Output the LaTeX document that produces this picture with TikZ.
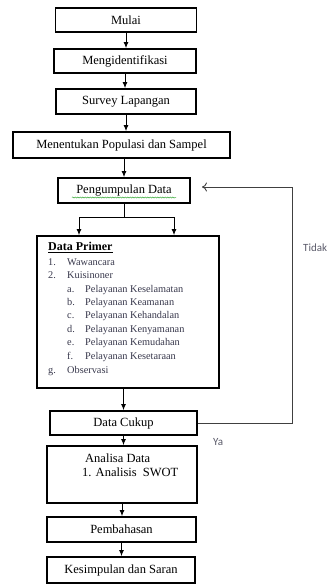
\documentclass[tikz,border=0pt]{standalone}
\usepackage{fontspec}
\setmainfont{Liberation Serif}
\newfontfamily\labelfont{Carlito}
\usepackage{tikz}
\usetikzlibrary{arrows.meta}
\usetikzlibrary{decorations.pathmorphing}

\definecolor{listgray}{RGB}{55,55,75}
\definecolor{notegray}{RGB}{90,90,105}
\definecolor{spellgreen}{RGB}{60,170,60}

\tikzset{
  box/.style={draw, line width=1.8pt, inner sep=0pt, minimum height=24pt,
    font=\fontsize{12.5}{12.5}\selectfont},
  arr/.style={-{Latex[length=6pt,width=5pt]}, line width=0.9pt},
  fb/.style={-{To[length=5pt,width=9pt]}, line width=0.9pt, draw=black!75},
  item/.style={anchor=west, inner sep=0pt, text height=7.5pt, text depth=2.5pt,
    text=listgray, font=\fontsize{10.3}{10.3}\selectfont},
  note/.style={anchor=west, inner sep=0pt, text=notegray, font=\labelfont\fontsize{11}{11}\selectfont}
}

\begin{document}
\begin{tikzpicture}[x=1pt, y=-1pt]
\useasboundingbox (0,0) rectangle (328,584);

\node [box, minimum width=141pt] (mulai) at (126,20) {Mulai};
\node [box, minimum width=142pt] (ident) at (125,61) {Mengidentifikasi};
\node [box, minimum width=140pt, minimum height=25pt] (survey) at (126,101.5) {Survey Lapangan};
\node [box, minimum width=217pt, minimum height=26pt] (populasi) at (121.5,145) {Menentukan Populasi dan Sampel};
\node [box, minimum width=132pt, minimum height=25pt] (kumpul) at (124,190.5) {Pengumpulan Data};
\node [box, minimum width=182pt, minimum height=152pt] (primer) at (128,312) {};
\node [box, minimum width=147pt] (cukup) at (123.5,423) {Data Cukup};
\node [box, minimum width=150pt, minimum height=57pt] (analisa) at (122,474.5) {};
\node [box, minimum width=149pt, minimum height=25pt] (bahas) at (121.5,529.5) {Pembahasan};
\node [box, minimum width=148pt, minimum height=26pt] (simpul) at (121,570) {Kesimpulan dan Saran};

% spell check mark
\draw [spellgreen, line width=0.5pt, decorate, decoration={snake, amplitude=0.6pt, segment length=2.5pt}] (72,197.5) -- (176,197.5);

% isi data primer
\node [item, font=\bfseries\fontsize{12}{12}\selectfont, text=black] (judul) at (48,248) {\underline{Data Primer}};
\node [item] (n1) at (48,263) {1.};
\node [item] (wawancara) at (67,263) {Wawancara};
\node [item] (n2) at (48,276) {2.};
\node [item] (kuisioner) at (67,276) {Kuisinoner};
\node [item] (ha) at (67,289.5) {a.};
\node [item] (ta) at (85,289.5) {Pelayanan Keselamatan};
\node [item] (hb) at (67,303) {b.};
\node [item] (tb) at (85,303) {Pelayanan Keamanan};
\node [item] (hc) at (67,316) {c.};
\node [item] (tc) at (85,316) {Pelayanan Kehandalan};
\node [item] (hd) at (67,329.5) {d.};
\node [item] (td) at (85,329.5) {Pelayanan Kenyamanan};
\node [item] (he) at (67,343) {e.};
\node [item] (te) at (85,343) {Pelayanan Kemudahan};
\node [item] (hf) at (67,356.5) {f.};
\node [item] (tf) at (85,356.5) {Pelayanan Kesetaraan};
\node [item] (hg) at (48,371) {g.};
\node [item] (observasi) at (67,371) {Observasi};

% isi analisa
\node [item, text=black, font=\fontsize{12.5}{12.5}\selectfont] (analisa1) at (85,460) {Analisa Data};
\node [item, text=black, font=\fontsize{12.5}{12.5}\selectfont] (analisa2) at (82,474) {1. Analisis\ \ SWOT};

\node [note] (tidak) at (303,248) {Tidak};
\node [note] (ya) at (213,442) {Ya};

\coordinate (bl) at (79,217);
\coordinate (br) at (174,217);
\coordinate (turn) at (292,187);
\coordinate (tip) at (202,187);

\draw [arr] (mulai) -- (mulai |- ident.north);
\draw [arr] (ident) -- (ident |- survey.north);
\draw [arr] (survey) -- (survey |- populasi.north);
\draw [arr] (kumpul |- populasi.south) -- (kumpul);
\draw [line width=0.9pt] (kumpul) -- (kumpul |- bl);
\draw [line width=0.9pt] (bl) -- (br);
\draw [arr] (bl) -- (bl |- primer.north);
\draw [arr] (br) -- (br |- primer.north);
\draw [arr] (cukup |- primer.south) -- (cukup);
\draw [arr] (cukup) -- (cukup |- analisa.north);
\draw [arr] (analisa) -- (analisa |- bahas.north);
\draw [arr] (bahas) -- (bahas |- simpul.north);
\draw [fb] (cukup.east) -| (turn) -- (tip);
\end{tikzpicture}
\end{document}
